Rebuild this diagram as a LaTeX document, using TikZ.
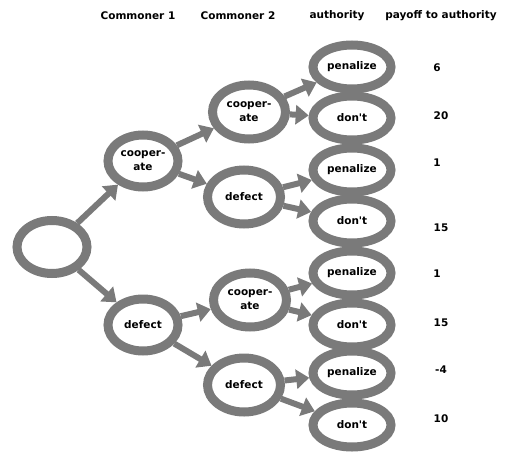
\documentclass[tikz,border=0pt]{standalone}
\usepackage{fontspec}
\setmainfont{DejaVu Sans}
\usetikzlibrary{shapes.geometric,arrows.meta,backgrounds}
\begin{document}
\begin{tikzpicture}[x=1pt,y=-1pt,
  lbl/.style={font=\bfseries\fontsize{10.5}{12}\selectfont, inner sep=0pt},
  ring/.style={ellipse, draw=black!52, line width=9pt, inner sep=0pt, align=center,
    font=\bfseries\fontsize{10.5}{14}\selectfont},
  rootnode/.style={ring, minimum width=70pt, minimum height=53pt},
  c1node/.style={ring, minimum width=70pt, minimum height=52pt},
  c2node/.style={ring, minimum width=73pt, minimum height=54pt},
  leaf/.style={ring, minimum width=78pt, minimum height=44pt},
  branch/.style={draw=black!52, line width=6pt, -{Triangle[length=13pt,width=19pt]}}
]
\useasboundingbox (0,0) rectangle (510,465);
% headers
\node[lbl] (h1) at (138,16) {Commoner 1};
\node[lbl] (h2) at (238,16) {Commoner 2};
\node[lbl] (h3) at (337,16) {authority};
\node[lbl] (h4) at (441,16) {payoff to authority};
% nodes
\node[rootnode] (r) at (52,247) {};
\node[c1node] (c) at (143,161) {cooper-\\ate};
\node[c1node] (d) at (143,325) {defect};
\node[c2node] (cc) at (249,112) {cooper-\\ate};
\node[c2node] (cd) at (244,197) {defect};
\node[c2node] (dc) at (250,300) {cooper-\\ate};
\node[c2node] (dd) at (244,385) {defect};
\node[leaf] (l1) at (352,67) {penalize};
\node[leaf] (l2) at (352,118) {don\textquotesingle t};
\node[leaf] (l3) at (352,170) {penalize};
\node[leaf] (l4) at (352,221) {don\textquotesingle t};
\node[leaf] (l5) at (352,273) {penalize};
\node[leaf] (l6) at (352,325) {don\textquotesingle t};
\node[leaf] (l7) at (352,373) {penalize};
\node[leaf] (l8) at (352,425) {don\textquotesingle t};
% payoffs
\node[lbl] (p1) at (437,68) {6};
\node[lbl] (p2) at (441,116) {20};
\node[lbl] (p3) at (437,163) {1};
\node[lbl] (p4) at (441,228) {15};
\node[lbl] (p5) at (437,274) {1};
\node[lbl] (p6) at (441,323) {15};
\node[lbl] (p7) at (441,370) {-4};
\node[lbl] (p8) at (441,419) {10};
% arrows
\begin{pgfonlayer}{background}
\draw[branch] (r) -- (c);
\draw[branch] (r) -- (d);
\draw[branch] (c) -- (cc);
\draw[branch] (c) -- (cd);
\draw[branch] (d) -- (dc);
\draw[branch] (d) -- (dd);
\draw[branch] (cc) -- (l1);
\draw[branch] (cc) -- (l2);
\draw[branch] (cd) -- (l3);
\draw[branch] (cd) -- (l4);
\draw[branch] (dc) -- (l5);
\draw[branch] (dc) -- (l6);
\draw[branch] (dd) -- (l7);
\draw[branch] (dd) -- (l8);
\end{pgfonlayer}
\end{tikzpicture}
\end{document}
